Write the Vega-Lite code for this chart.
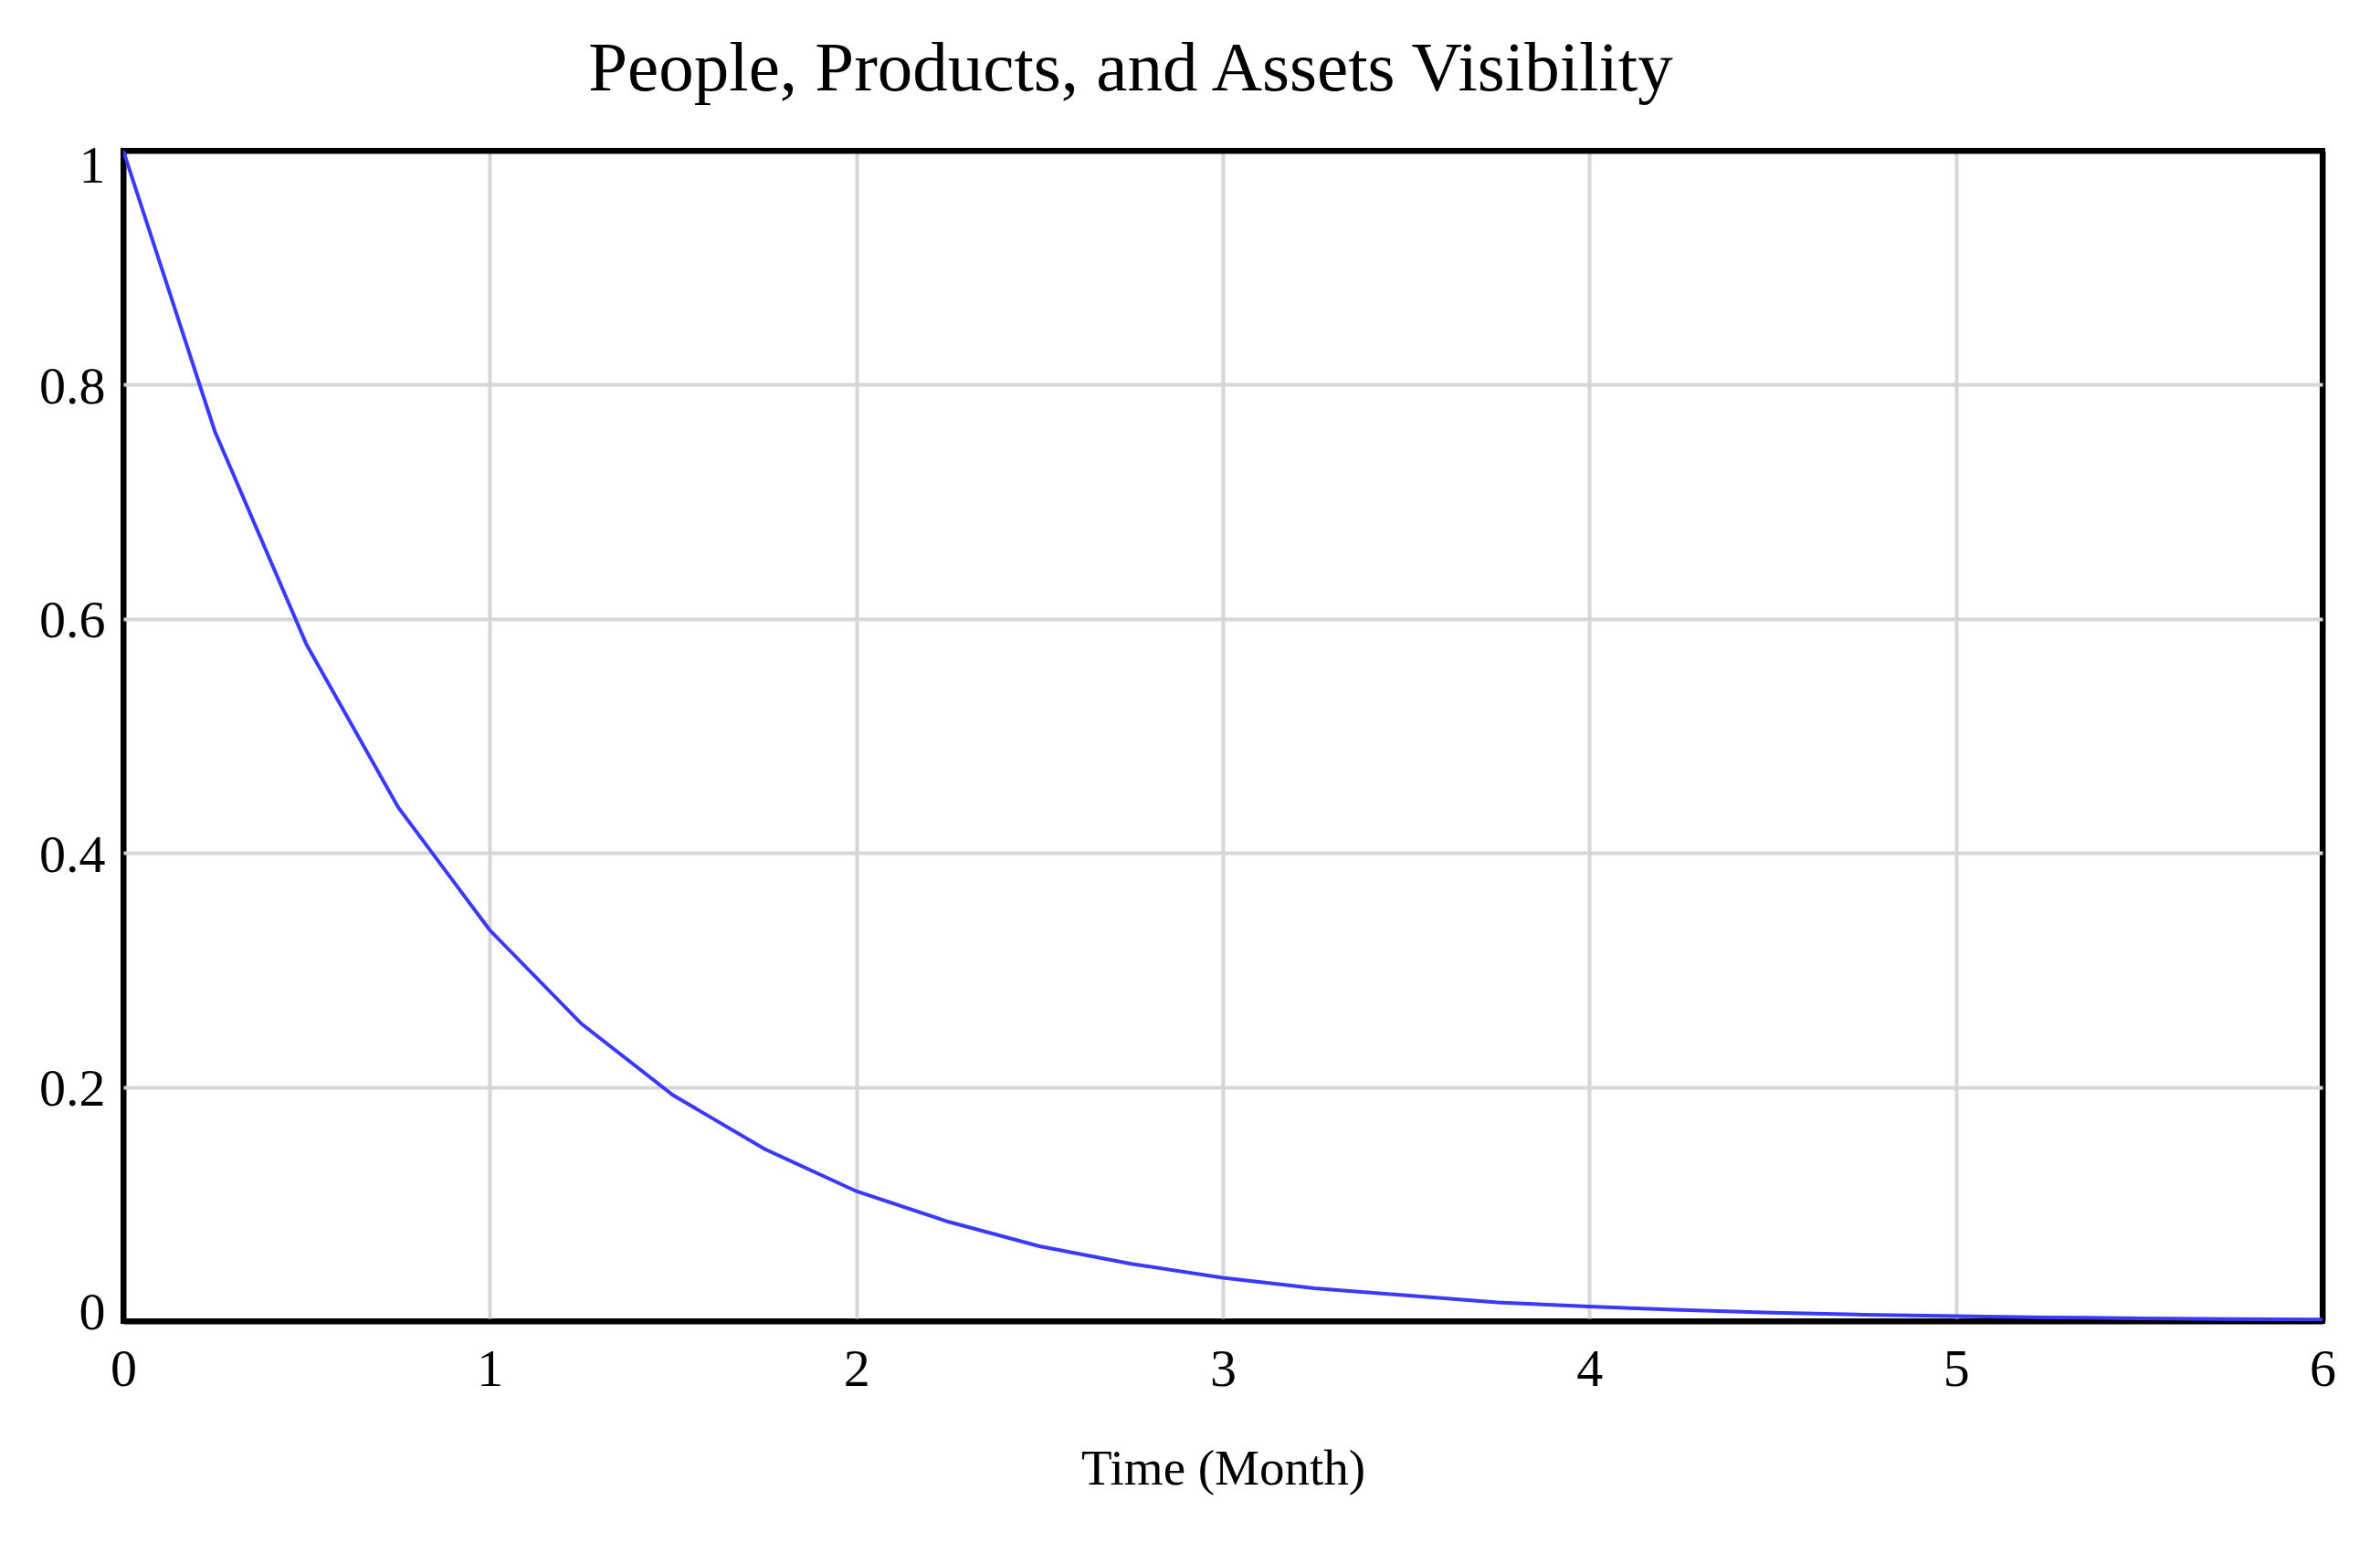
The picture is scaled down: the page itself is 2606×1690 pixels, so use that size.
{
  "$schema": "https://vega.github.io/schema/vega-lite/v6.json",
  "width": 2408,
  "height": 1282,
  "autosize": {"type": "none"},
  "padding": {"left": 135, "top": 165, "right": 63, "bottom": 243},
  "background": "white",
  "title": {
    "text": "People, Products, and Assets Visibility",
    "font": "Liberation Serif",
    "fontSize": 77,
    "fontWeight": "normal",
    "color": "black",
    "anchor": "middle",
    "dx": -101,
    "offset": 38
  },
  "config": {
    "view": {"stroke": "black", "strokeWidth": 6},
    "axis": {
      "labelFont": "Liberation Serif",
      "titleFont": "Liberation Serif",
      "labelColor": "black",
      "titleColor": "black",
      "labelFontSize": 58,
      "titleFontSize": 55,
      "titleFontWeight": "normal",
      "domain": false,
      "ticks": false,
      "gridOpacity": 1
    }
  },
  "data": {
    "values": [
      {"t": 0, "v": 1.0},
      {"t": 0.25, "v": 0.76},
      {"t": 0.5, "v": 0.578},
      {"t": 0.75, "v": 0.439},
      {"t": 1, "v": 0.334},
      {"t": 1.25, "v": 0.254},
      {"t": 1.5, "v": 0.193},
      {"t": 1.75, "v": 0.147},
      {"t": 2, "v": 0.111},
      {"t": 2.25, "v": 0.085},
      {"t": 2.5, "v": 0.064},
      {"t": 2.75, "v": 0.049},
      {"t": 3, "v": 0.037},
      {"t": 3.25, "v": 0.028},
      {"t": 3.5, "v": 0.022},
      {"t": 3.75, "v": 0.016},
      {"t": 4, "v": 0.0125},
      {"t": 4.25, "v": 0.0095},
      {"t": 4.5, "v": 0.0072},
      {"t": 4.75, "v": 0.0055},
      {"t": 5, "v": 0.0042},
      {"t": 5.25, "v": 0.0032},
      {"t": 5.5, "v": 0.0024},
      {"t": 5.75, "v": 0.0018},
      {"t": 6, "v": 0.0014}
    ]
  },
  "mark": {"type": "line", "color": "#3a3aff", "strokeWidth": 4, "clip": true},
  "encoding": {
    "x": {
      "field": "t",
      "type": "quantitative",
      "scale": {"domain": [0, 6], "nice": false, "zero": false},
      "axis": {
        "title": "Time (Month)",
        "values": [0, 1, 2, 3, 4, 5, 6],
        "format": "d",
        "labelFlush": false,
        "labelPadding": 24,
        "titlePadding": 53,
        "gridColor": {"condition": {"test": "datum.value == 0 || datum.value == 6", "value": "black"}, "value": "#d6d6d6"},
        "gridWidth": {"condition": {"test": "datum.value == 0 || datum.value == 6", "value": 6}, "value": 4}
      }
    },
    "y": {
      "field": "v",
      "type": "quantitative",
      "scale": {"domain": [0, 1], "nice": false},
      "axis": {
        "title": null,
        "values": [0, 0.2, 0.4, 0.6, 0.8, 1],
        "format": "~g",
        "labelPadding": 20,
        "labelFlush": false,
        "labelBaseline": "middle",
        "labelOffset": {"expr": "datum.value == 1 ? 17 : datum.value == 0 ? -9 : 3"},
        "gridColor": {"condition": {"test": "datum.value == 0 || datum.value == 1", "value": "black"}, "value": "#d6d6d6"},
        "gridWidth": {"condition": {"test": "datum.value == 0 || datum.value == 1", "value": 6}, "value": 4}
      }
    }
  }
}
